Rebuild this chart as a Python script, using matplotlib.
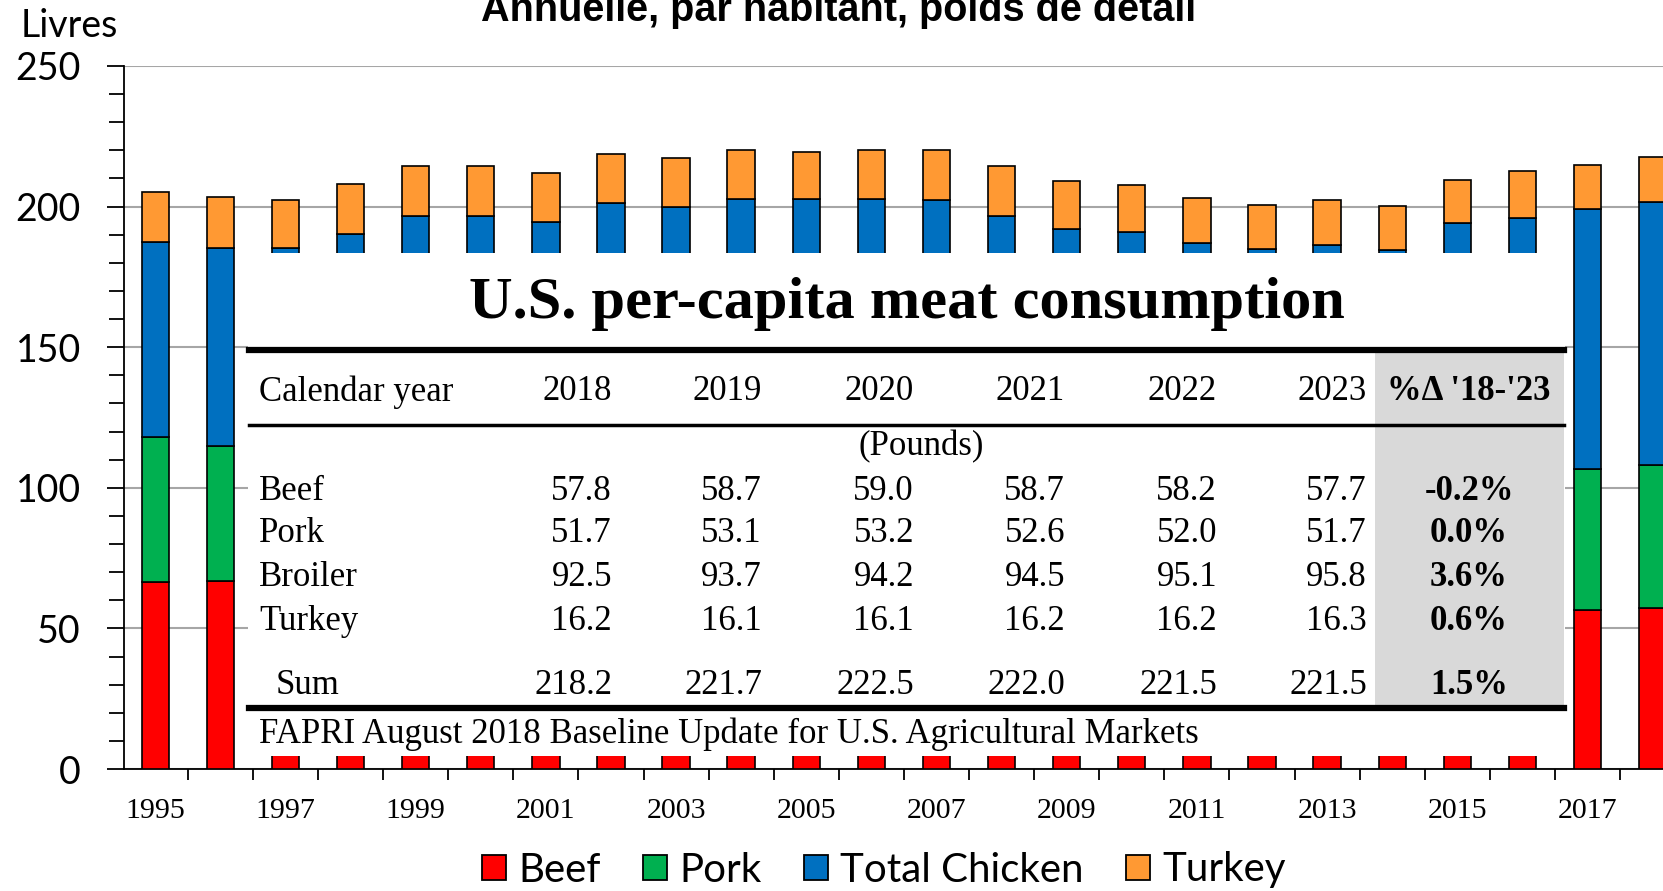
import matplotlib
matplotlib.use("Agg")
import numpy as np
import matplotlib.pyplot as plt
from matplotlib.patches import Rectangle
from matplotlib.lines import Line2D
from matplotlib.ticker import MultipleLocator, FixedLocator

W, H = 1663, 891

# ---- bar data (lbs per capita, retail weight) ----
years = list(range(1995, 2019))
beef = [66.4, 66.7, 65.0, 65.8, 66.9, 66.5, 65.4, 65.6, 63.0, 63.9, 63.1, 63.3,
        62.4, 59.9, 58.0, 57.5, 55.8, 54.3, 53.2, 51.4, 51.1, 53.6, 56.6, 57.3]
pork = [51.6, 48.3, 46.0, 49.2, 50.5, 49.4, 48.0, 48.7, 49.7, 49.4, 48.2, 47.5,
        49.3, 48.1, 48.5, 46.0, 44.4, 44.5, 45.0, 45.0, 48.0, 48.6, 50.1, 50.9]
chicken = [69.5, 70.3, 74.2, 75.4, 79.3, 80.8, 81.0, 87.0, 87.3, 89.5, 91.5, 92.0,
           90.5, 88.7, 85.7, 87.4, 86.8, 86.0, 88.1, 88.2, 95.1, 93.9, 92.4, 93.5]
turkey = [17.6, 18.1, 17.1, 17.6, 17.7, 17.7, 17.7, 17.5, 17.2, 17.2, 16.6, 17.2,
          17.8, 17.7, 17.0, 16.7, 15.9, 15.8, 16.2, 15.6, 15.1, 16.6, 15.8, 15.9]
series = ["Beef", "Pork", "Total Chicken", "Turkey"]
colors = ["#ff0000", "#00b050", "#0070c0", "#ff9933"]

# ---- table data ----
tbl_years = ["2018", "2019", "2020", "2021", "2022", "2023"]
tbl_rows = ["Beef", "Pork", "Broiler", "Turkey"]
tbl_beef = [57.8, 58.7, 59.0, 58.7, 58.2, 57.7]
tbl_pork = [51.7, 53.1, 53.2, 52.6, 52.0, 51.7]
tbl_broiler = [92.5, 93.7, 94.2, 94.5, 95.1, 95.8]
tbl_turkey = [16.2, 16.1, 16.1, 16.2, 16.2, 16.3]
tbl_sum = [218.2, 221.7, 222.5, 222.0, 221.5, 221.5]
tbl_pct = ["-0.2%", "0.0%", "3.6%", "0.6%"]
sum_pct = "1.5%"


def px(x, y):
    """full-size pixel position -> figure fraction"""
    return x / W, 1 - y / H


fig = plt.figure(figsize=(W / 100, H / 100), dpi=100)
ax = fig.add_axes([124 / W, 1 - 769 / H, 1 - 124 / W, (769 - 66) / H])

x = np.array(years)
bottom = np.zeros(len(years))
for vals, col in zip([beef, pork, chicken, turkey], colors):
    ax.bar(x, vals, width=0.42, bottom=bottom, color=col,
           edgecolor="black", linewidth=1.2, zorder=3)
    bottom += np.array(vals)

ax.set_xlim(1994.52, 2018.16)
ax.set_ylim(0, 250)
ax.yaxis.set_major_locator(MultipleLocator(50))
ax.yaxis.set_minor_locator(MultipleLocator(10))
ax.grid(axis="y", which="major", color="#a6a6a6", lw=1.5, zorder=0)
ax.set_axisbelow(True)
for s in ["top", "right"]:
    ax.spines[s].set_visible(False)
for s in ["left", "bottom"]:
    ax.spines[s].set_linewidth(1.3)

ax.tick_params(axis="y", which="major", direction="out", length=12, width=1.3,
               pad=19, labelsize=27)
ax.tick_params(axis="y", which="minor", direction="out", length=11, width=1.3)
for lab in ax.get_yticklabels():
    lab.set_fontfamily("Lato")

ax.set_xticks(years[::2])
ax.set_xticklabels([str(y) for y in years[::2]], family="Liberation Serif", fontsize=21.5)
ax.xaxis.set_minor_locator(FixedLocator(np.arange(1994.5, 2018.6, 1)))
ax.tick_params(axis="x", which="major", length=0, pad=21)
ax.tick_params(axis="x", which="minor", direction="out", length=8, width=1.3)

# white box that the table sits on
ax.add_patch(Rectangle((1996.43, 4.5), 2016.66 - 1996.43, 183.4 - 4.5,
                       facecolor="white", edgecolor="none", zorder=10))

fig.text(*px(21, 26), "Livres", family="Lato", fontsize=27, ha="left", va="center")
# title is clipped by the top edge, as in the source image
fig.text(*px(839, 21), "Annuelle, par habitant, poids de détail",
         family="Liberation Sans", weight="bold", fontsize=28.5, ha="center", va="baseline")

# ---- table ----
fig.add_artist(Rectangle(px(1375, 705), (1564 - 1375) / W, (705 - 353) / H,
                         transform=fig.transFigure, facecolor="#d9d9d9",
                         edgecolor="none", zorder=11))
for yy, lw in [(350, 4.5), (425, 2.5), (708, 4.5)]:
    fig.add_artist(Line2D([249 / W, 1564 / W], [1 - yy / H] * 2, color="black",
                          lw=lw, transform=fig.transFigure, zorder=12))

tf = dict(family="Liberation Serif", fontsize=25, va="center", zorder=13)
pf = dict(tf, weight="bold")
fig.text(*px(907, 304), "U.S. per-capita meat consumption",
         family="Liberation Serif", weight="bold", fontsize=43.5,
         ha="center", va="center", zorder=13)
fig.text(*px(259, 392), "Calendar year", ha="left", **tf)
col_right = [612, 762, 914, 1065, 1217, 1367]
for cx, yr in zip(col_right, tbl_years):
    fig.text(*px(cx, 392), yr, ha="right", **tf)
fig.text(*px(1469, 392), "%\u0394 '18-'23", ha="center", **pf)
fig.text(*px(921, 447), "(Pounds)", ha="center", **tf)

row_y = [491, 534, 578, 622]
for ry, name, vals, pct in zip(row_y, tbl_rows,
                               [tbl_beef, tbl_pork, tbl_broiler, tbl_turkey], tbl_pct):
    fig.text(*px(259, ry), name, ha="left", **tf)
    for cx, v in zip(col_right, vals):
        fig.text(*px(cx, ry), f"{v:.1f}", ha="right", **tf)
    fig.text(*px(1469, ry), pct, ha="center", **pf)

fig.text(*px(276, 685), "Sum", ha="left", **tf)
for cx, v in zip(col_right, tbl_sum):
    fig.text(*px(cx, 685), f"{v:.1f}", ha="right", **tf)
fig.text(*px(1469, 685), sum_pct, ha="center", **pf)
fig.text(*px(259, 734), "FAPRI August 2018 Baseline Update for U.S. Agricultural Markets",
         ha="left", **tf)

# ---- legend ----
handles = [Rectangle((0, 0), 1, 1, facecolor=c, edgecolor="black", lw=1.3) for c in colors]
fig.legend(handles, series, loc="center", bbox_to_anchor=px(884, 870), ncol=4,
           frameon=False, prop={"family": "Lato", "size": 29},
           handlelength=0.6, handleheight=0.6, handletextpad=0.3, columnspacing=1.05)

fig.savefig("out.png", dpi=100)
